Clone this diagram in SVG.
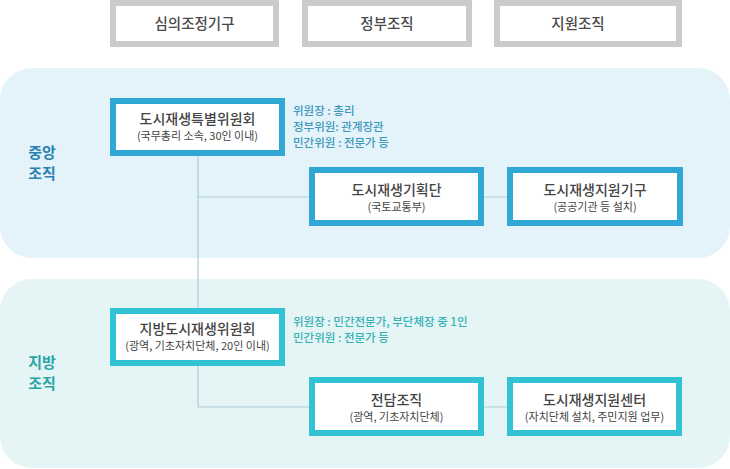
<svg xmlns="http://www.w3.org/2000/svg" width="730" height="469" viewBox="0 0 730 469">
<style>
text{font-family:"Noto Sans CJK KR","Noto Sans",sans-serif;text-anchor:middle}
.hdr{fill:#fff;stroke:#cbcbcb;stroke-width:6}
.ht{font-size:14.5px;fill:#4a4a4a;font-weight:500}
.nc{fill:#fff;stroke:#2fa8d5;stroke-width:6}
.nl{fill:#fff;stroke:#31c3d3;stroke-width:6}
.t{font-size:14px;fill:#444;font-weight:500}
.s{font-size:11px;fill:#444}
.side{font-size:11.5px;text-anchor:start;font-weight:500}
.sc{fill:#3f98bc}
.sl{fill:#36b2b5}
.lab{font-size:15px;font-weight:bold}
.con{fill:none;stroke:#a9cdd8;stroke-width:1.2}
</style>
<rect x="0" y="68" width="730" height="190" rx="32" fill="#e4f3f9"/>
<rect x="0" y="279" width="730" height="189" rx="32" fill="#e5f4f5"/>
<g id="headers">
<g id="h1"><rect class="hdr" x="113" y="3" width="163" height="41"/><text class="ht" x="194.5" y="29">심의조정기구</text></g>
<g id="h2"><rect class="hdr" x="305" y="3" width="164" height="41"/><text class="ht" x="387" y="29">정부조직</text></g>
<g id="h3"><rect class="hdr" x="497" y="3" width="182" height="41"/><text class="ht" x="578" y="29">지원조직</text></g>
</g>
<g id="labels">
<text class="lab" x="42" y="158" fill="#2a82b2">중앙</text>
<text class="lab" x="42" y="179" fill="#2a82b2">조직</text>
<text class="lab" x="42" y="368" fill="#2aa5a8">지방</text>
<text class="lab" x="42" y="389" fill="#2aa5a8">조직</text>
</g>
<g id="connectors">
<path class="con" d="M198 156V308M198 366V407H309M198 197H309M484 197H507M484 407H507"/>
</g>
<g id="n1"><rect class="nc" x="113" y="101" width="169" height="52"/><text class="t" x="197.5" y="124">도시재생특별위원회</text><text class="s" x="197.5" y="140">(국무총리 소속, 30인 이내)</text></g>
<g id="n1note"><text class="side sc" x="293" y="115">위원장 : 총리</text><text class="side sc" x="293" y="131">정부위원: 관계장관</text><text class="side sc" x="293" y="147">민간위원 : 전문가 등</text></g>
<g id="n2"><rect class="nc" x="312" y="170" width="169" height="53"/><text class="t" x="396.5" y="195">도시재생기획단</text><text class="s" x="396.5" y="211">(국토교통부)</text></g>
<g id="n3"><rect class="nc" x="510" y="170" width="170" height="53"/><text class="t" x="595" y="195">도시재생지원기구</text><text class="s" x="595" y="211">(공공기관 등 설치)</text></g>
<g id="n4"><rect class="nl" x="113" y="311" width="169" height="52"/><text class="t" x="197.5" y="334">지방도시재생위원회</text><text class="s" x="197.5" y="350">(광역, 기초자치단체, 20인 이내)</text></g>
<g id="n4note"><text class="side sl" x="293" y="326">위원장 : 민간전문가, 부단체장 중 1인</text><text class="side sl" x="293" y="342">민간위원 : 전문가 등</text></g>
<g id="n5"><rect class="nl" x="312" y="380" width="169" height="53"/><text class="t" x="396.5" y="405">전담조직</text><text class="s" x="396.5" y="421">(광역, 기초자치단체)</text></g>
<g id="n6"><rect class="nl" x="510" y="380" width="169" height="53"/><text class="t" x="594.5" y="405">도시재생지원센터</text><text class="s" x="594.5" y="421">(자치단체 설치, 주민지원 업무)</text></g>
</svg>
